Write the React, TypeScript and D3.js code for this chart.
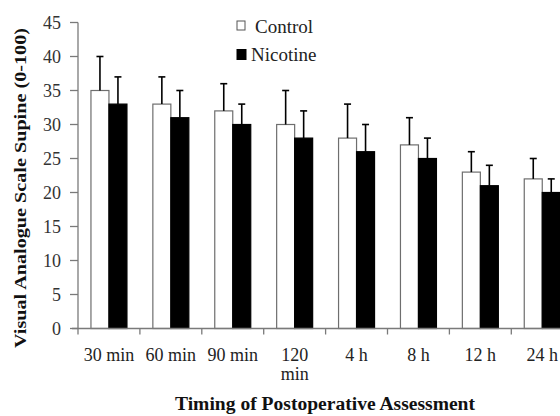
import { useRef, useEffect } from "react";
import { select, scaleLinear, scaleBand } from "d3";

// data
const categories = ["30 min", "60 min", "90 min", "120 min", "4 h", "8 h", "12 h", "24 h"];
const xTickLines = [["30 min"], ["60 min"], ["90 min"], ["120", "min"], ["4 h"], ["8 h"], ["12 h"], ["24 h"]];
const seriesNames = ["Control", "Nicotine"];
const controlMeans = [35, 33, 32, 30, 28, 27, 23, 22];
const controlErr = [5, 4, 4, 5, 5, 4, 3, 3];
const nicotineMeans = [33, 31, 30, 28, 26, 25, 21, 20];
const nicotineErr = [4, 4, 3, 4, 4, 3, 3, 2];
const yTicks = [0, 5, 10, 15, 20, 25, 30, 35, 40, 45];

const W = 560;
const H = 416;
const FONT = "'Times New Roman', 'Liberation Serif', 'DejaVu Serif', serif";

const App = () => {
  const svgRef = useRef<SVGSVGElement>(null);

  useEffect(() => {
    const svg = select(svgRef.current);
    svg.selectAll("*").remove();

    const left = 78;
    const step = 61.9;
    const x0 = scaleBand<string>()
      .domain(categories)
      .range([left, left + step * categories.length])
      .padding(0);
    const x1 = scaleBand<string>()
      .domain(seriesNames)
      .range([0, x0.bandwidth()])
      .paddingInner(0)
      .paddingOuter(0.72);
    const y = scaleLinear().domain([0, 45]).range([328.5, 22.5]);

    const rows = categories.map((c, i) => ({
      cat: c,
      vals: [
        { s: "Control", v: controlMeans[i], e: controlErr[i] },
        { s: "Nicotine", v: nicotineMeans[i], e: nicotineErr[i] },
      ],
    }));

    // bars
    const groups = svg
      .append("g")
      .selectAll("g")
      .data(rows)
      .join("g")
      .attr("transform", (d) => `translate(${x0(d.cat)},0)`);

    groups
      .selectAll("rect")
      .data((d) => d.vals)
      .join("rect")
      .attr("x", (d) => x1(d.s)!)
      .attr("y", (d) => y(d.v))
      .attr("width", x1.bandwidth())
      .attr("height", (d) => y(0) - y(d.v))
      .attr("fill", (d) => (d.s === "Control" ? "#fff" : "#000"))
      .attr("stroke", (d) => (d.s === "Control" ? "#6e6e6e" : "#000"))
      .attr("stroke-width", 1.2);

    // error bars (upper only)
    const errs = groups.selectAll("g.err").data((d) => d.vals).join("g").attr("class", "err");
    errs
      .append("line")
      .attr("x1", (d) => x1(d.s)! + x1.bandwidth() / 2)
      .attr("x2", (d) => x1(d.s)! + x1.bandwidth() / 2)
      .attr("y1", (d) => y(d.v))
      .attr("y2", (d) => y(d.v + d.e))
      .attr("stroke", "#000")
      .attr("stroke-width", 1.6);
    errs
      .append("line")
      .attr("x1", (d) => x1(d.s)! + x1.bandwidth() / 2 - 3.5)
      .attr("x2", (d) => x1(d.s)! + x1.bandwidth() / 2 + 3.5)
      .attr("y1", (d) => y(d.v + d.e))
      .attr("y2", (d) => y(d.v + d.e))
      .attr("stroke", "#000")
      .attr("stroke-width", 1.6);

    // y axis
    const axisColor = "#7a7a7a";
    svg
      .append("line")
      .attr("x1", left)
      .attr("x2", left)
      .attr("y1", y(45))
      .attr("y2", y(0))
      .attr("stroke", axisColor)
      .attr("stroke-width", 1.3);
    const yt = svg.append("g").selectAll("g").data(yTicks).join("g");
    yt.append("line")
      .attr("x1", left - 8)
      .attr("x2", left)
      .attr("y1", (d) => y(d))
      .attr("y2", (d) => y(d))
      .attr("stroke", axisColor)
      .attr("stroke-width", 1.3);
    yt.append("text")
      .attr("x", 61)
      .attr("y", (d) => y(d))
      .attr("dy", "0.34em")
      .attr("text-anchor", "end")
      .style("font-family", FONT)
      .style("font-size", "18px")
      .style("font-weight", "400")
      .attr("fill", "#333")
      .text((d) => d);

    // x axis
    svg
      .append("line")
      .attr("x1", left - 6)
      .attr("x2", W)
      .attr("y1", y(0))
      .attr("y2", y(0))
      .attr("stroke", axisColor)
      .attr("stroke-width", 1.3);
    svg
      .append("g")
      .selectAll("line")
      .data(categories)
      .join("line")
      .attr("x1", (d) => x0(d)!)
      .attr("x2", (d) => x0(d)!)
      .attr("y1", y(0))
      .attr("y2", y(0) + 6)
      .attr("stroke", axisColor)
      .attr("stroke-width", 1.3);

    const xl = svg
      .append("g")
      .selectAll("text")
      .data(categories)
      .join("text")
      .attr("text-anchor", "middle")
      .style("font-family", FONT)
      .style("font-size", "18px")
      .style("font-weight", "400")
      .attr("fill", "#222");
    xl.selectAll("tspan")
      .data((d) => xTickLines[categories.indexOf(d)].map((t) => ({ t, c: d })))
      .join("tspan")
      .attr("x", (d) => x0(d.c)! + x0.bandwidth() / 2)
      .attr("y", (d, i) => 361 + i * 19)
      .text((d) => d.t);

    // axis titles
    svg
      .append("text")
      .attr("x", 325)
      .attr("y", 410)
      .attr("text-anchor", "middle")
      .style("font-family", FONT)
      .style("font-weight", "bold")
      .style("font-size", "18px")
      .attr("textLength", 300)
      .attr("lengthAdjust", "spacingAndGlyphs")
      .attr("fill", "#111")
      .text("Timing of Postoperative Assessment");

    svg
      .append("text")
      .attr("transform", "translate(25.5,188) rotate(-90)")
      .attr("text-anchor", "middle")
      .style("font-family", FONT)
      .style("font-weight", "bold")
      .style("font-size", "17px")
      .attr("textLength", 320)
      .attr("lengthAdjust", "spacingAndGlyphs")
      .attr("fill", "#111")
      .text("Visual Analogue Scale Supine (0-100)");

    // legend
    const lg = svg
      .append("g")
      .selectAll("g")
      .data(seriesNames)
      .join("g")
      .attr("transform", (d, i) => `translate(237,${21 + i * 28.5})`);
    lg.append("rect")
      .attr("width", (d, i) => (i === 0 ? 8 : 9))
      .attr("height", (d, i) => (i === 0 ? 9 : 10))
      .attr("fill", (d) => (d === "Control" ? "#fff" : "#000"))
      .attr("stroke", (d) => (d === "Control" ? "#555" : "#000"))
      .attr("stroke-width", 1);
    lg.append("text")
      .attr("x", (d, i) => (i === 0 ? 18 : 14))
      .attr("y", 11.5)
      .style("font-family", FONT)
      .style("font-size", "19px")
      .style("font-weight", "400")
      .attr("fill", "#222")
      .text((d) => d);
  }, []);

  return (
    <svg
      ref={svgRef}
      width={W}
      height={H}
      viewBox={`0 0 ${W} ${H}`}
      style={{ position: "absolute", left: 0, top: 0, background: "#fff" }}
    ></svg>
  );
};

export default App;
